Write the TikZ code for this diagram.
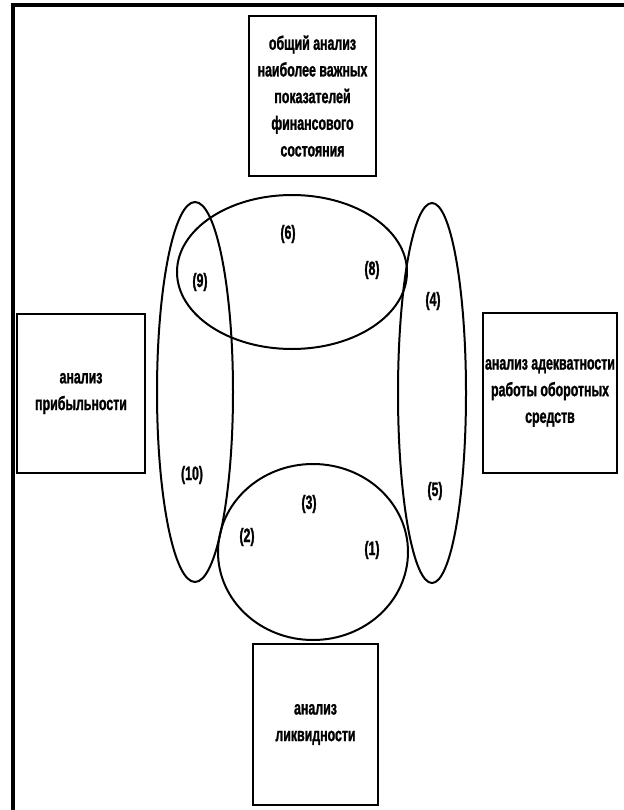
\documentclass[tikz,border=0pt]{standalone}
\usepackage{fontspec}
\setmainfont[FakeStretch=0.64, BoldFeatures={FakeBold=1.2}]{Liberation Sans}
\usetikzlibrary{shapes.geometric}
\tikzset{
  box/.style={draw, line width=1.5pt, rectangle, inner sep=0pt, align=center,
    font=\fontsize{14.5}{20}\selectfont\bfseries},
  tag/.style={inner sep=0pt, font=\fontsize{14.5}{20}\selectfont\bfseries},
  ring/.style={line width=1.5pt},
  frame/.style={line width=3pt}
}
\begin{document}
\begin{tikzpicture}[x=0.75pt, y=-0.75pt]
  \useasboundingbox (0,0) rectangle (624,810);
  % page frame (top and left edges only)
  \coordinate (fl) at (13,810);
  \coordinate (fc) at (13,5);
  \coordinate (fr) at (624,5);
  \draw[frame] (fl) -- (fc) -- (fr);

  % the four analysis blocks
  \node[box, minimum width=95.25pt, minimum height=120pt] (gen) at (312.5,96)
    {общий анализ\\наиболее важных\\показателей\\финансового\\состояния};
  \node[box, minimum width=96pt, minimum height=119.25pt] (prof) at (81,393.5)
    {анализ\\прибыльности};
  \node[box, minimum width=100.5pt, minimum height=120pt] (work) at (550,393)
    {анализ адекватности\\работы оборотных\\средств};
  \node[box, minimum width=93.75pt, minimum height=120.75pt] (liq) at (315.5,724.5)
    {анализ\\ликвидности};

  % overlapping groups of indicators
  \draw[ring] (292,272) ellipse [x radius=115, y radius=77];
  \draw[ring] (195,392) ellipse [x radius=38, y radius=190];
  \draw[ring] (432,393) ellipse [x radius=34, y radius=190];
  \draw[ring] (313,552) ellipse [x radius=95, y radius=88];

  % indicator numbers
  \node[tag] (n6) at (288,234) {(6)};
  \node[tag] (n9) at (200,282) {(9)};
  \node[tag] (n8) at (372,270) {(8)};
  \node[tag] (n4) at (433,301) {(4)};
  \node[tag] (n10) at (192,475) {(10)};
  \node[tag] (n5) at (435,491) {(5)};
  \node[tag] (n3) at (309,504) {(3)};
  \node[tag] (n2) at (247,537) {(2)};
  \node[tag] (n1) at (372,550) {(1)};
\end{tikzpicture}
\end{document}
